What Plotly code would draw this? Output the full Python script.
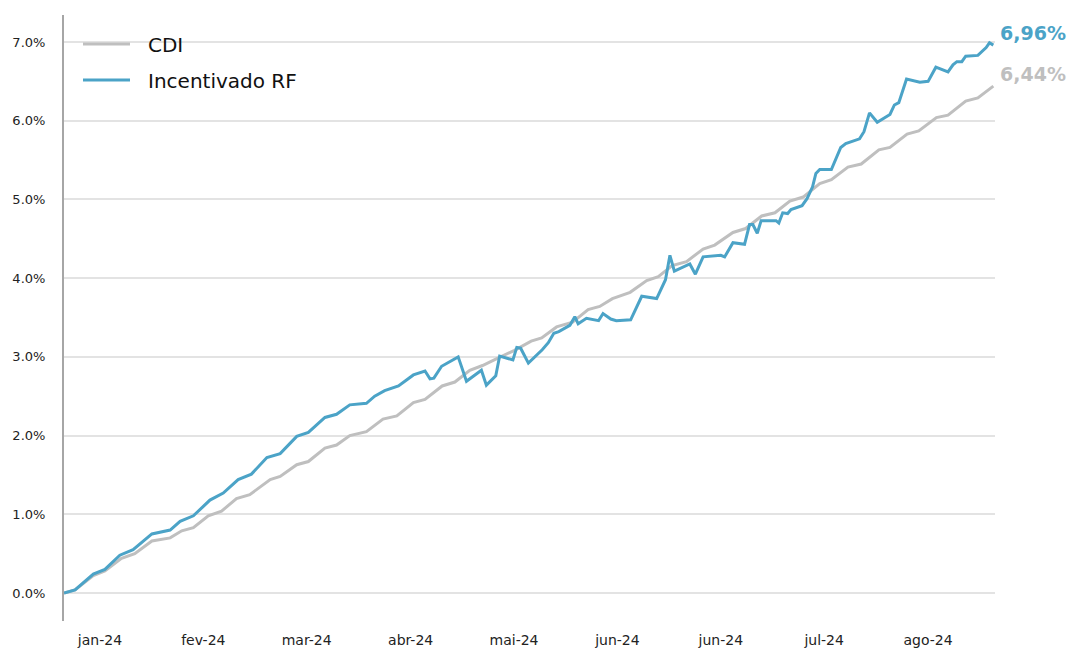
import plotly.graph_objects as go

# Business-day index (position along the period) and cumulative return, in %
cdi_x = [0, 2.0, 5.3, 7.4, 10.4, 12.8, 15.9, 19.2, 21.3, 23.4, 26.1, 28.5, 31.2, 33.6,
         37.3, 39.1, 42.1, 44.2, 47.2, 49.3, 51.7, 54.7, 57.7, 60.2, 63.2, 65.3, 68.4,
         70.7, 73.4, 75.7, 78.1, 79.7, 81.4, 84.5, 86.4, 89.1, 92.0, 94.8, 96.9, 99.2,
         102.4, 105.4, 107.5, 110.0, 112.6, 115.6, 117.7, 121.0, 123.3, 126.2, 128.6,
         131.3, 133.7, 136.7, 138.8, 141.8, 144.2, 147.4, 149.4, 152.5, 154.6, 157.8,
         159.9, 163.1, 165.3, 168.1]
cdi_y = [0.00, 0.04, 0.22, 0.28, 0.44, 0.50, 0.66, 0.70, 0.79, 0.83, 0.98, 1.04, 1.20, 1.25,
         1.44, 1.48, 1.63, 1.67, 1.84, 1.88, 2.00, 2.05, 2.21, 2.25, 2.42, 2.46, 2.63,
         2.68, 2.83, 2.89, 2.97, 3.02, 3.08, 3.20, 3.24, 3.38, 3.44, 3.60, 3.64, 3.74,
         3.82, 3.97, 4.02, 4.16, 4.21, 4.37, 4.42, 4.58, 4.63, 4.79, 4.83,
         4.98, 5.03, 5.20, 5.25, 5.41, 5.45, 5.63, 5.66, 5.83, 5.87, 6.04,
         6.07, 6.25, 6.29, 6.44]

rf_x = [0, 2.0, 5.3, 7.4, 10.1, 12.5, 15.9, 19.2, 21.0, 23.4, 26.4, 28.8, 31.5, 33.9,
        36.7, 39.1, 42.1, 44.2, 47.2, 49.3, 51.7, 54.7, 56.2, 58.0, 60.5, 63.2, 65.3,
        66.2, 66.9, 68.3, 71.3, 72.8, 75.5, 76.4, 78.1, 78.8, 81.2, 81.9, 82.6, 84.0,
        86.5, 87.6, 88.6, 89.5, 91.5, 92.4, 93.0, 94.5, 96.7, 97.5, 98.9, 99.9, 102.5,
        104.5, 107.2, 108.8, 109.6, 110.4, 113.2, 114.2, 115.6, 118.8, 119.5, 121.0,
        123.1, 124.0, 124.6, 125.4, 126.1, 128.8, 129.3, 130.0, 130.9, 131.5, 133.5,
        134.4, 135.4, 136.0, 136.7, 138.8, 140.5, 141.4, 143.9, 144.7, 145.7, 147.1,
        149.4, 150.2, 151.0, 152.4, 154.8, 156.3, 157.7, 159.9, 160.8, 161.5, 162.4,
        163.1, 165.3, 166.1, 166.8, 167.4, 168.1]
rf_y = [0.00, 0.04, 0.24, 0.30, 0.48, 0.55, 0.75, 0.80, 0.91, 0.98, 1.18, 1.27, 1.44, 1.51,
        1.72, 1.77, 1.99, 2.04, 2.23, 2.27, 2.39, 2.41, 2.50, 2.57, 2.63, 2.77, 2.82,
        2.72, 2.73, 2.88, 3.00, 2.69, 2.83, 2.64, 2.76, 3.01, 2.96, 3.12, 3.11, 2.92,
        3.09, 3.18, 3.30, 3.32, 3.40, 3.51, 3.42, 3.49, 3.46, 3.55, 3.48, 3.46, 3.47,
        3.77, 3.74, 3.98, 4.29, 4.09, 4.18, 4.05, 4.27, 4.29, 4.27, 4.45,
        4.43, 4.68, 4.68, 4.57, 4.73, 4.73, 4.70, 4.83, 4.82, 4.87, 4.92,
        5.01, 5.16, 5.33, 5.38, 5.38, 5.66, 5.71, 5.77, 5.86, 6.10, 5.98,
        6.08, 6.20, 6.23, 6.53, 6.49, 6.50, 6.68, 6.62, 6.71, 6.75, 6.75,
        6.82, 6.83, 6.89, 6.93, 6.99, 6.96]

tick_pos = [6.5, 25.2, 43.9, 62.7, 81.4, 100.1, 118.8, 137.5, 156.3]
tick_text = ["jan-24", "fev-24", "mar-24", "abr-24", "mai-24", "jun-24", "jun-24", "jul-24", "ago-24"]
y_ticks = [0, 1, 2, 3, 4, 5, 6, 7]

series_names = ["CDI", "Incentivado RF"]

GRAY = "#bfbfbf"
BLUE = "#4ba3c7"
FONT = "DejaVu Sans"

W, H = 1070, 649
ML, MR, MT, MB = 64, 75, 15, 28

fig = go.Figure()
fig.add_trace(go.Scatter(x=cdi_x, y=cdi_y, mode="lines", name=series_names[0],
                         line=dict(color=GRAY, width=3)))
fig.add_trace(go.Scatter(x=rf_x, y=rf_y, mode="lines", name=series_names[1],
                         line=dict(color=BLUE, width=3)))

def fmt(v):
    return f"{v:.2f}%".replace(".", ",")

fig.add_annotation(x=rf_x[-1], y=rf_y[-1], text=fmt(rf_y[-1]), showarrow=False,
                   xanchor="left", yanchor="middle", xshift=5, yshift=12,
                   font=dict(family=FONT, size=19, color=BLUE, weight="bold"))
fig.add_annotation(x=cdi_x[-1], y=cdi_y[-1], text=fmt(cdi_y[-1]), showarrow=False,
                   xanchor="left", yanchor="middle", xshift=5, yshift=12,
                   font=dict(family=FONT, size=19, color=GRAY, weight="bold"))

# Legend drawn in pixel-derived paper coordinates (top-left of plot)
pw = W - ML - MR
ph = H - MT - MB
def px2paper_x(px):
    return (px - ML) / pw
def py2paper_y(py):
    return 1 - (py - MT) / ph

for name, color, ly in [(series_names[0], GRAY, 44), (series_names[1], BLUE, 80)]:
    fig.add_shape(type="line", xref="paper", yref="paper",
                  x0=px2paper_x(83), x1=px2paper_x(130),
                  y0=py2paper_y(ly), y1=py2paper_y(ly),
                  line=dict(color=color, width=3))
    fig.add_annotation(xref="paper", yref="paper", x=px2paper_x(146), y=py2paper_y(ly + 1),
                       text=name, showarrow=False, xanchor="left", yanchor="middle",
                       font=dict(family=FONT, size=20, color="#111111"))

fig.update_layout(
    width=W, height=H,
    margin=dict(l=ML, r=MR, t=MT, b=MB, autoexpand=False),
    paper_bgcolor="white", plot_bgcolor="white",
    font=dict(family=FONT, color="#222222"),
    showlegend=False,
    xaxis=dict(range=[0, 168.4], tickmode="array", tickvals=tick_pos, ticktext=tick_text,
               showgrid=False, zeroline=False, showline=False, automargin=False,
               ticks="outside", ticklen=6, tickcolor="rgba(0,0,0,0)",
               tickfont=dict(family=FONT, size=14, color="#222222")),
    yaxis=dict(range=[-0.356, 7.343], tickmode="array", tickvals=y_ticks,
               ticktext=[f"{v:.1f}%" for v in y_ticks], automargin=False,
               showgrid=True, gridcolor="#e3e3e3", gridwidth=1.5,
               zeroline=False, showline=True, linecolor="#a6a6a6", linewidth=2,
               ticks="outside", ticklen=14, tickcolor="rgba(0,0,0,0)",
               tickfont=dict(family=FONT, size=13, color="#222222")),
)

fig.write_html("out.html", config={"displayModeBar": False},
               post_script="document.body.style.margin='0';")
